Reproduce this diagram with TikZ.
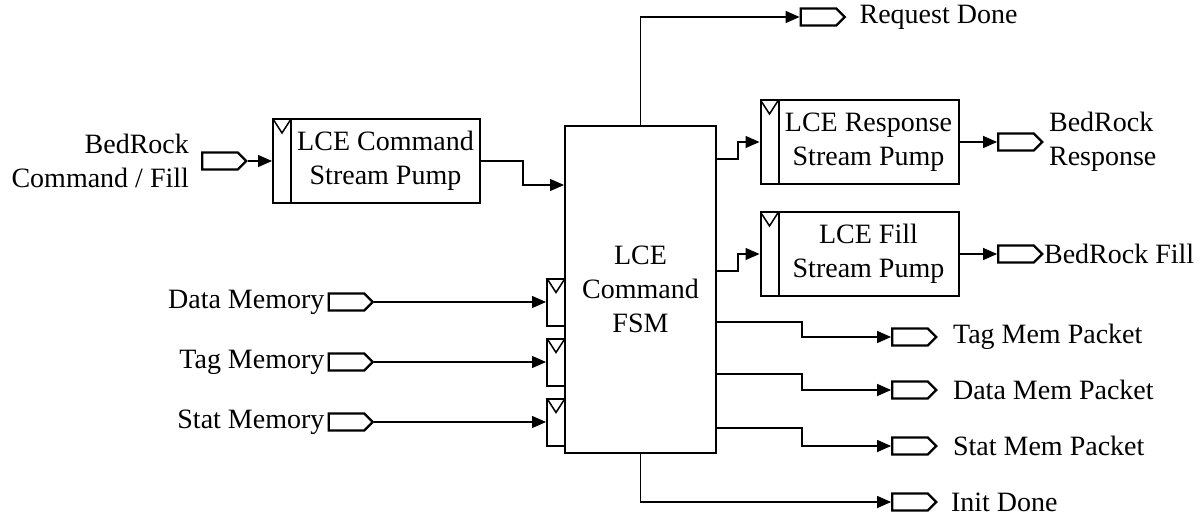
\documentclass[tikz,border=0pt]{standalone}
\usepackage{fontspec}
\setmainfont{Liberation Serif}
\usetikzlibrary{arrows.meta,calc,positioning,shapes.symbols}

\tikzset{
  port/.style={draw,line width=2.3pt,signal,signal to=east,
    minimum width=44pt,minimum height=17pt,inner sep=0pt},
  clkbar/.style={draw,line width=2pt,minimum width=18pt,inner sep=0pt,
    path picture={\draw[line width=1.5pt] (path picture bounding box.north west)
      -- ($(path picture bounding box.north)+(0,-14pt)$)
      -- (path picture bounding box.north east);}},
  pumpbox/.style={draw,line width=2pt,minimum height=84pt,align=center,inner sep=0pt},
  wire/.style={line width=1.3pt,->},
  lbl/.style={inner sep=0pt}
}

\begin{document}
\begin{tikzpicture}[>={Triangle[length=14pt,width=12pt]},x=1pt,y=-1pt,
    every node/.style={font=\fontsize{28}{34}\selectfont}]
  \useasboundingbox (0,0) rectangle (1200,516);

  % command FSM
  \node[draw,line width=2pt,minimum width=151pt,minimum height=327pt,align=center]
    (fsm) at (640.5,289.5) {LCE\\Command\\FSM};

  % stream pumps
  \node[clkbar,minimum height=84pt] (cmdclk) at (282,161) {};
  \node[pumpbox,minimum width=189pt,right=-2pt of cmdclk] (cmd) {LCE Command\\Stream Pump};
  \node[clkbar,minimum height=84pt] (respclk) at (769.5,142) {};
  \node[pumpbox,minimum width=180pt,right=-2pt of respclk] (resp) {LCE Response\\Stream Pump};
  \node[clkbar,minimum height=84pt] (fillclk) at (769.5,254) {};
  \node[pumpbox,minimum width=180pt,right=-2pt of fillclk] (fill) {LCE Fill\\Stream Pump};

  % BedRock ports
  \node[port] (cmdin) at (220,161) {};
  \node[lbl,align=right,left=12pt of cmdin] {BedRock\\Command / Fill};
  \node[port] (respout) at (1016,142) {};
  \node[lbl,align=left,right=5pt of respout] {BedRock\\Response};
  \node[port] (fillout) at (1016,254) {};
  \node[lbl,right=0pt of fillout] {BedRock Fill};
  \node[port] (reqout) at (818.5,17) {};
  \node[lbl,right=13pt of reqout] {Request Done};
  \node[port] (initout) at (910,502) {};
  \node[lbl,right=13pt of initout] {Init Done};

  \draw[wire] (cmdin.east) -- (cmdclk.west);
  \draw[wire] (cmd.east) -- ++(42,0) |- (fsm.west |- 0,185);
  \draw[wire] (fsm.east |- 0,159) -- ++(21,0) |- (respclk.west);
  \draw[wire] (fsm.east |- 0,271) -- ++(21,0) |- (fillclk.west);
  \draw[wire] (resp.east) -- (respout.west);
  \draw[wire] (fill.east) -- (fillout.west);
  \draw[wire] (fsm.north) |- (reqout.west);
  \draw[wire] (fsm.south) |- (initout.west);

  % memory inputs
  \foreach \nm/\txt/\yy in {data/Data/302,tag/Tag/362,stat/Stat/422}{
    \node[clkbar,minimum height=47pt] (\nm clk) at (556,\yy) {};
    \node[port] (\nm in) at (346.5,\yy) {};
    \node[lbl,left=3pt of \nm in] {\txt\ Memory};
    \draw[wire] (\nm in.east) -- (\nm clk.west);
  }

  % memory packets
  \foreach \nm/\txt/\yy/\ys in {tag/Tag/337/322,data/Data/390/374,stat/Stat/446/428}{
    \node[port] (\nm out) at (910,\yy) {};
    \node[lbl,right=15pt of \nm out] {\txt\ Mem Packet};
    \draw[wire] (fsm.east |- 0,\ys) -- (802,\ys) |- (\nm out.west);
  }
\end{tikzpicture}
\end{document}
